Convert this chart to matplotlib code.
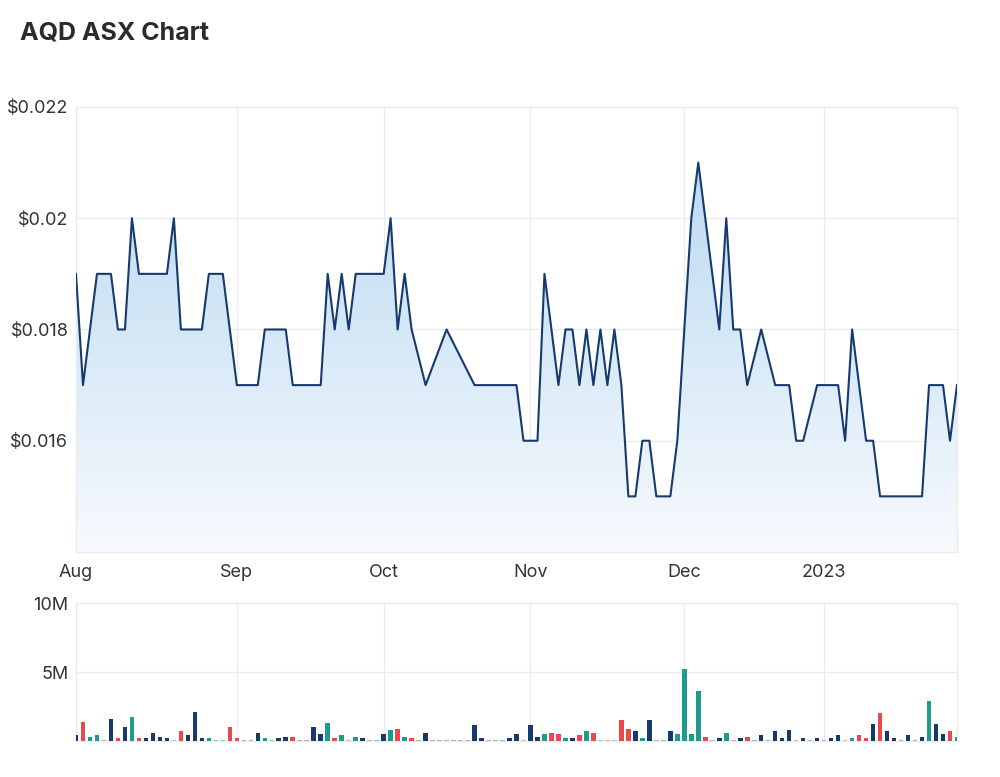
import matplotlib
matplotlib.use("Agg")
import matplotlib.pyplot as plt
import matplotlib.ticker as ticker
from matplotlib.patches import Polygon
from matplotlib.colors import LinearSegmentedColormap
import numpy as np

# trading-day index (0 = 1 Aug 2022) and closing price at each turning point
price_day = [0, 1, 3, 5, 6, 7, 8, 9, 13, 14, 15, 18, 19, 21, 23, 26, 27, 30, 31, 35,
             36, 37, 38, 39, 40, 44, 45, 46, 47, 48, 50, 53, 57, 63, 64, 66, 67, 69,
             70, 71, 72, 73, 74, 75, 76, 77, 78, 79, 80, 81, 82, 83, 85, 86, 88, 89,
             92, 93, 94, 95, 96, 98, 100, 102, 103, 104, 106, 109, 110, 111, 113,
             114, 115, 121, 122, 124, 125, 126]
price = [0.019, 0.017, 0.019, 0.019, 0.018, 0.018, 0.020, 0.019, 0.019, 0.020, 0.018,
         0.018, 0.019, 0.019, 0.017, 0.017, 0.018, 0.018, 0.017, 0.017,
         0.019, 0.018, 0.019, 0.018, 0.019, 0.019, 0.020, 0.018, 0.019, 0.018, 0.017,
         0.018, 0.017, 0.017, 0.016, 0.016, 0.019, 0.017,
         0.018, 0.018, 0.017, 0.018, 0.017, 0.018, 0.017, 0.018, 0.017, 0.015, 0.015,
         0.016, 0.016, 0.015, 0.015, 0.016, 0.020, 0.021,
         0.018, 0.020, 0.018, 0.018, 0.017, 0.018, 0.017, 0.017, 0.016, 0.016, 0.017,
         0.017, 0.016, 0.018, 0.016,
         0.016, 0.015, 0.015, 0.017, 0.017, 0.016, 0.017]

# daily volume in millions, one per trading day
volume = [0.41, 1.39, 0.26, 0.41, 0.08, 1.61, 0.19, 0.99, 1.71, 0.19,
          0.19, 0.60, 0.29, 0.19, 0.08, 0.70, 0.41, 2.09, 0.19, 0.19,
          0.08, 0.08, 0.99, 0.19, 0.08, 0.08, 0.60, 0.19, 0.08, 0.19,
          0.29, 0.29, 0.08, 0.08, 0.99, 0.48, 1.30, 0.19, 0.41, 0.08,
          0.29, 0.19, 0.08, 0.08, 0.48, 0.79, 0.89, 0.29, 0.19, 0.08,
          0.60, 0.08, 0.08, 0.08, 0.08, 0.08, 0.08, 1.13, 0.19, 0.08,
          0.08, 0.08, 0.19, 0.48, 0.08, 1.13, 0.29, 0.48, 0.60, 0.48,
          0.19, 0.19, 0.41, 0.70, 0.60, 0.08, 0.08, 0.08, 1.49, 0.89,
          0.70, 0.19, 1.49, 0.08, 0.08, 0.70, 0.48, 5.20, 0.48, 3.60,
          0.29, 0.08, 0.19, 0.60, 0.08, 0.19, 0.29, 0.08, 0.41, 0.08,
          0.70, 0.19, 0.79, 0.08, 0.19, 0.08, 0.19, 0.08, 0.19, 0.41,
          0.08, 0.19, 0.41, 0.19, 1.20, 2.00, 0.70, 0.19, 0.08, 0.41,
          0.08, 0.29, 2.93, 1.20, 0.48, 0.70, 0.29]
# N/R/T = unchanged/down/up, lower case = no trades
vol_kind = ("NRTTnNRNTR" "NNNNtRNNNT" "nnRRnnNTnN" "NRnnNNTRTr"
            "TNnnNTRTRn" "NnnnnnnNNn" "nnNNrNNTRR" "TNRTRtrtRR"
            "NTNrnNTTTT" "RnNTrNRnNn" "NNNrNnNnNN" "rTRRNRNNnN"
            "nNTNNRT")

month_day = [0, 23, 44, 65, 87, 107]
month_label = ["Aug", "Sep", "Oct", "Nov", "Dec", "2023"]

kind_colour = {"N": "#163a6e", "R": "#e84a4c", "T": "#1f9a8d",
               "n": "#a6b3c8", "r": "#f2aaaa", "t": "#9fd3cc"}
line_colour = "#163a6e"
grid_colour = "#ebebeb"
text_colour = "#333333"

plt.rcParams["font.family"] = ["Inter", "DejaVu Sans"]

fig = plt.figure(figsize=(10, 7.77), dpi=100)
ax1 = fig.add_axes([0.076, 0.2896, 0.881, 0.5727])
ax2 = fig.add_axes([0.076, 0.0463, 0.881, 0.1776])

fig.text(0.02, 0.958, "AQD ASX Chart", fontsize=18, fontweight="bold",
         color="#2b2b2b", va="center", ha="left")

# price panel
ymin, ymax = 0.014, 0.022
xs = np.array(price_day, dtype=float)
ys = np.array(price)
grad = np.linspace(0, 1, 256).reshape(-1, 1)
cmap = LinearSegmentedColormap.from_list("fillgrad", ["#f7fafe", "#bcdaf2"])
im = ax1.imshow(grad, extent=[xs[0], xs[-1], ymin, 0.021], aspect="auto",
                cmap=cmap, origin="lower", zorder=1)
poly = Polygon(np.column_stack([np.r_[xs[0], xs, xs[-1]], np.r_[ymin, ys, ymin]]),
               closed=True, facecolor="none", edgecolor="none")
ax1.add_patch(poly)
im.set_clip_path(poly)
ax1.plot(xs, ys, color=line_colour, lw=1.5, zorder=3)

ax1.set_xlim(0, 126)
ax1.set_ylim(ymin, ymax)
ax1.set_yticks([0.016, 0.018, 0.020, 0.022])
ax1.yaxis.set_major_formatter(ticker.FuncFormatter(
    lambda v, pos: "$" + ("%.3f" % v).rstrip("0")))
ax1.set_xticks(month_day)
ax1.set_xticklabels(month_label)

# volume panel
ax2.bar(range(len(volume)), volume, width=0.65,
        color=[kind_colour[k] for k in vol_kind], zorder=3)
ax2.set_xlim(0, 126)
ax2.set_ylim(0, 10)
ax2.set_yticks([5, 10])
ax2.set_yticklabels(["5M", "10M"])
ax2.set_xticks(month_day)
ax2.set_xticklabels([])

for ax in (ax1, ax2):
    ax.grid(True, color=grid_colour, lw=1, zorder=0)
    ax.set_axisbelow(True)
    for s in ax.spines.values():
        s.set_color(grid_colour)
        s.set_linewidth(1)
    ax.tick_params(length=0, labelsize=13, labelcolor=text_colour)
    ax.tick_params(axis="y", pad=5.5)
    ax.tick_params(axis="x", pad=8.5)

fig.savefig("out.png", dpi=100, facecolor="white")
